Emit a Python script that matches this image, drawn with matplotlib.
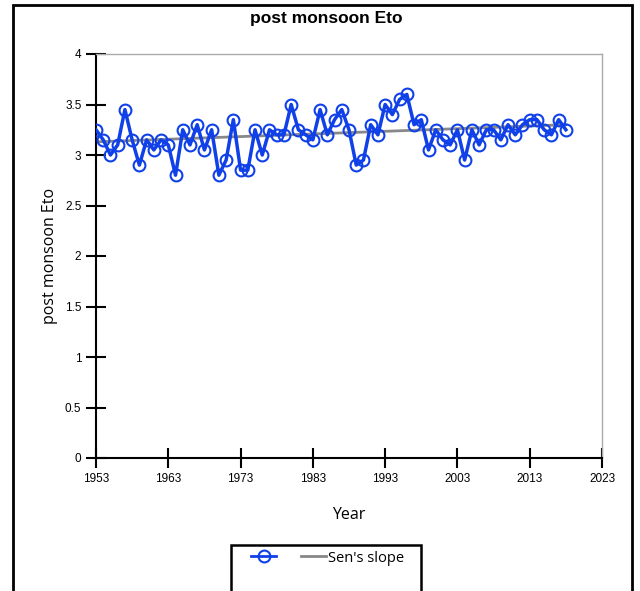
import matplotlib
matplotlib.use("Agg")
import matplotlib.pyplot as plt
from matplotlib.patches import Rectangle
from matplotlib.lines import Line2D

years = list(range(1953, 2019))
eto = [3.25, 3.15, 3.00, 3.10, 3.45, 3.15, 2.90, 3.15, 3.05, 3.15,
       3.10, 2.80, 3.25, 3.10, 3.30, 3.05, 3.25, 2.80, 2.95, 3.35,
       2.85, 2.85, 3.25, 3.00, 3.25, 3.20, 3.20, 3.50, 3.25, 3.20,
       3.15, 3.45, 3.20, 3.35, 3.45, 3.25, 2.90, 2.95, 3.30, 3.20,
       3.50, 3.40, 3.55, 3.60, 3.30, 3.35, 3.05, 3.25, 3.15, 3.10,
       3.25, 2.95, 3.25, 3.10, 3.25, 3.25, 3.15, 3.30, 3.20, 3.30,
       3.35, 3.35, 3.25, 3.20, 3.35, 3.25]
sen_years = [1953, 2018]
sen_values = [3.13, 3.30]
xticks = [1953, 1963, 1973, 1983, 1993, 2003, 2013, 2023]
yticks = [0, 0.5, 1, 1.5, 2, 2.5, 3, 3.5, 4]
ytick_labels = ["0", "0.5", "1", "1.5", "2", "2.5", "3", "3.5", "4"]

plt.rcParams['font.family'] = ['Liberation Sans', 'DejaVu Sans']
fig = plt.figure(figsize=(6.4, 5.91), dpi=100)
ax = fig.add_axes([96/640, 1-458/591, 506/640, 404/591])

blue = '#1040e8'
ax.plot(sen_years, sen_values, color='#888888', lw=2, zorder=2)
ax.plot(years, eto, color=blue, lw=2.5, marker='o', ms=8.5,
        mfc='none', mec=blue, mew=1.5, zorder=3)

ax.set_xlim(1953, 2023)
ax.set_ylim(0, 4)
ax.set_xticks(xticks)
ax.set_xticklabels([str(t) for t in xticks], fontsize=8.5)
ax.set_yticks(yticks)
ax.set_yticklabels(ytick_labels, fontsize=8.5)
ax.tick_params(direction='inout', length=14, width=1.5, color='black')
for s in ['top', 'right']:
    ax.spines[s].set_color('#aaaaaa')
    ax.spines[s].set_linewidth(1)
for s in ['left', 'bottom']:
    ax.spines[s].set_color('black')
    ax.spines[s].set_linewidth(1.5)

ax.set_xlabel('Year', fontsize=11.5, family=['Open Sans', 'DejaVu Sans'], labelpad=16)
ax.set_ylabel('post monsoon Eto', fontsize=11.5, family=['Open Sans', 'DejaVu Sans'], labelpad=5)

fig.text(0.51, 1-18/591, 'post monsoon Eto', ha='center', va='center',
         fontsize=12.5, fontweight='bold')

# outer border
fig.patches.append(Rectangle((13/640, -0.1), 619/640, 1.1 - 5/591, transform=fig.transFigure,
                             fill=False, ec='black', lw=2, zorder=0))
# legend box
fig.patches.append(Rectangle((231/640, -0.1), 190/640, 0.1 + 1-545/591, transform=fig.transFigure,
                             fill=False, ec='black', lw=1.8, zorder=5))
h1 = Line2D([], [], color=blue, lw=2, marker='o', ms=8.5, mfc='none', mec=blue, mew=1.5)
h2 = Line2D([], [], color='#888888', lw=2)
fig.legend([h1, h2], ['', "Sen's slope"], loc='center left',
           bbox_to_anchor=(238/640, 1-558/591), ncol=2, frameon=False,
           handlelength=1.7, columnspacing=1.6, handletextpad=0.15,
           prop={'family': ['Open Sans', 'DejaVu Sans'], 'size': 10.5})

fig.savefig('out.png', dpi=100)
